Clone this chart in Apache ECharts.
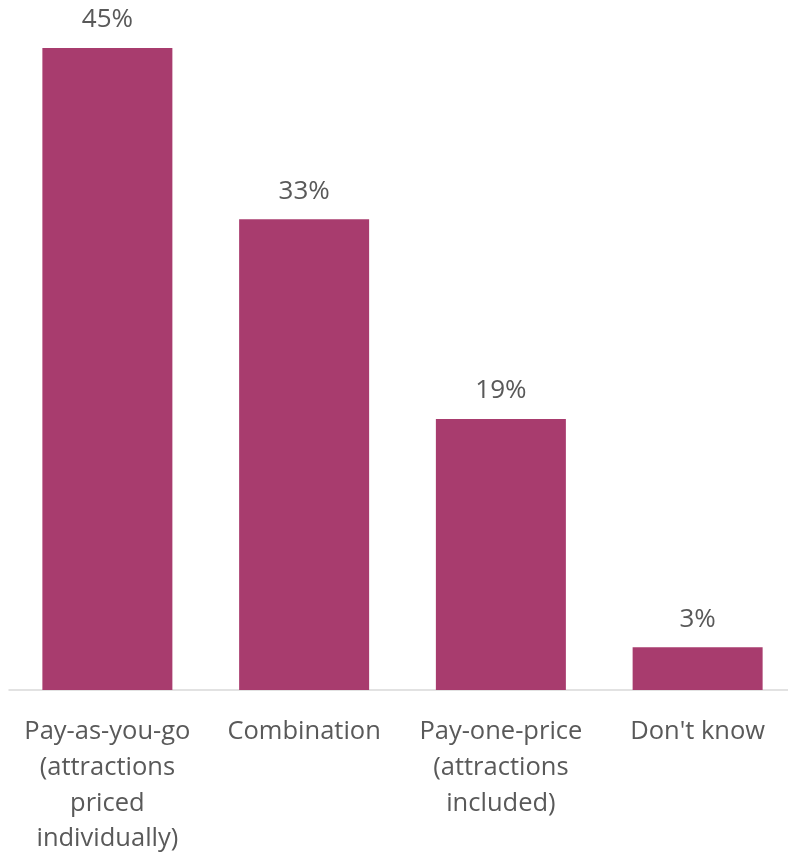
<!DOCTYPE html>
<html>
<head>
<meta charset="utf-8">
<script src="https://cdn.jsdelivr.net/npm/echarts@6/dist/echarts.min.js"></script>
<style>
  html, body { margin: 0; padding: 0; background: #fff; }
  #chart { width: 788px; height: 852px; }
</style>
</head>
<body>
<div id="chart"></div>
<script>
// Preferred pricing approach (% of respondents)
const categories = [
  'Pay-as-you-go\n(attractions\npriced\nindividually)',
  'Combination',
  'Pay-one-price\n(attractions\nincluded)',
  "Don't know"
];
const shares = [45, 33, 19, 3];

const textColor = '#595959';
const barColor = '#A83C6E';
const fontFamily = '"Open Sans", "Liberation Sans", sans-serif';

const chart = echarts.init(document.getElementById('chart'), null, { renderer: 'canvas' });
chart.setOption({
  animation: false,
  grid: {
    left: 9, width: 787, top: 48, height: 642,
    containLabel: false,
    outerBoundsMode: 'none'
  },
  xAxis: {
    type: 'category',
    data: categories,
    axisLine: { show: true, lineStyle: { color: '#D9D9D9', width: 1.5 } },
    axisTick: { show: false },
    axisLabel: {
      interval: 0,
      color: textColor,
      fontFamily: fontFamily,
      fontSize: 25.5,
      lineHeight: 35.7,
      margin: 24,
      align: 'center'
    }
  },
  yAxis: {
    type: 'value',
    min: 0,
    max: 45,
    show: false,
    splitLine: { show: false }
  },
  series: [{
    type: 'bar',
    data: shares,
    barWidth: 130,
    itemStyle: { color: barColor },
    label: {
      show: true,
      position: 'top',
      distance: 15,
      formatter: p => p.value + '%',
      color: textColor,
      fontFamily: fontFamily,
      fontSize: 26
    }
  }]
});
</script>
</body>
</html>
